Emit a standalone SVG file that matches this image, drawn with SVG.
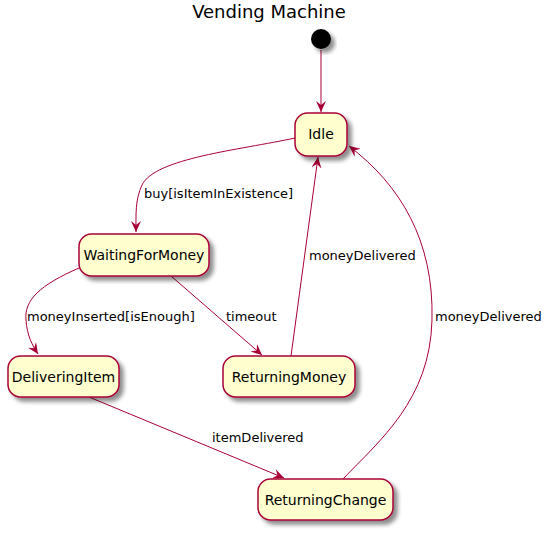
<svg xmlns="http://www.w3.org/2000/svg" width="550" height="533" viewBox="0 0 550 533">
<defs>
<filter id="sh" x="-20%" y="-20%" width="150%" height="150%">
<feGaussianBlur in="SourceAlpha" stdDeviation="2"/>
<feOffset dx="4" dy="4" result="b"/>
<feComponentTransfer><feFuncA type="linear" slope="0.45"/></feComponentTransfer>
<feMerge><feMergeNode/><feMergeNode in="SourceGraphic"/></feMerge>
</filter>
<marker id="ah" viewBox="0 0 12 10" refX="11" refY="5" markerWidth="12" markerHeight="10" markerUnits="userSpaceOnUse" orient="auto">
<path d="M0,0 L11,5 L0,10 L4,5 Z" fill="#A80036"/>
</marker>
</defs>
<style>
.st{fill:#FEFECE;stroke:#A80036;stroke-width:1.5;filter:url(#sh)}
.nt{font-family:"DejaVu Sans",sans-serif;font-size:14px;fill:#000;text-anchor:middle}
.el{font-family:"DejaVu Sans",sans-serif;font-size:13px;fill:#000}
.e{fill:none;stroke:#A80036;stroke-width:1;marker-end:url(#ah)}
</style>
<rect width="550" height="533" fill="#fff"/>
<text x="269" y="18" font-family="DejaVu Sans,sans-serif" font-size="18" text-anchor="middle">Vending Machine</text>
<g id="connectors">
<path class="e" d="M321,50 L321,112"/>
<path class="e" d="M295,138 C240,150 155,158 142,185 C135,200 136,215 136,232"/>
<path class="e" d="M79,268 C40,285 24,300 26,320 C27,335 32,345 38,354"/>
<path class="e" d="M171,276 L262,355"/>
<path class="e" d="M291,356 L318,157"/>
<path class="e" d="M343,479 C380,440 430,400 432,320 C434,240 400,185 349,146"/>
<path class="e" d="M89,397 L284,478"/>
<text class="el" x="144" y="198">buy[isItemInExistence]</text>
<text class="el" x="27" y="321">moneyInserted[isEnough]</text>
<text class="el" x="226" y="321">timeout</text>
<text class="el" x="309" y="260">moneyDelivered</text>
<text class="el" x="435" y="321">moneyDelivered</text>
<text class="el" x="212" y="442">itemDelivered</text>
</g>
<g id="start"><circle cx="321" cy="39" r="10" fill="#000" filter="url(#sh)"/></g>
<g id="Idle"><rect class="st" x="295" y="113" width="52" height="43" rx="12.5"/><text class="nt" x="321" y="139">Idle</text></g>
<g id="WaitingForMoney"><rect class="st" x="79" y="234" width="130" height="42" rx="12.5"/><text class="nt" x="144" y="260">WaitingForMoney</text></g>
<g id="DeliveringItem"><rect class="st" x="8" y="356" width="111" height="41" rx="12.5"/><text class="nt" x="63.5" y="382">DeliveringItem</text></g>
<g id="ReturningMoney"><rect class="st" x="223" y="356" width="132" height="41" rx="12.5"/><text class="nt" x="289" y="382">ReturningMoney</text></g>
<g id="ReturningChange"><rect class="st" x="258" y="479" width="135" height="41" rx="12.5"/><text class="nt" x="325.5" y="505">ReturningChange</text></g>
</svg>
